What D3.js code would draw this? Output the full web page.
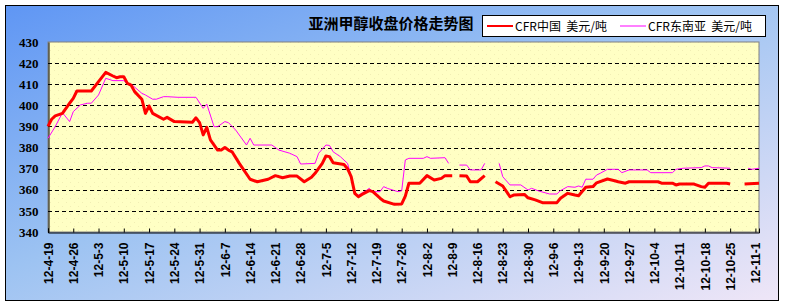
<!DOCTYPE html>
<html>
<head>
<meta charset="utf-8">
<script src="https://cdn.jsdelivr.net/npm/d3@7"></script>
<style>
  body { margin: 0; background: #fff; }
  svg { display: block; }
  text { white-space: pre; }
</style>
</head>
<body>
<svg id="chart" width="785" height="306"></svg>
<script>
// chart title and legend names
var title = "亚洲甲醇收盘价格走势图";
var seriesNames = ["CFR中国  美元/吨", "CFR东南亚  美元/吨"];

// x tick labels (weekly)
var xTickLabels = ["12-4-19","12-4-26","12-5-3","12-5-10","12-5-17","12-5-24","12-5-31",
  "12-6-7","12-6-14","12-6-21","12-6-28","12-7-5","12-7-12","12-7-19","12-7-26",
  "12-8-2","12-8-9","12-8-16","12-8-23","12-8-30","12-9-6","12-9-13","12-9-20",
  "12-9-27","12-10-4","12-10-11","12-10-18","12-10-25","12-11-1"];
var yTicks = [340,350,360,370,380,390,400,410,420,430];

// CFR China (red) - null = no quote
var chinaDates = ["4-19","4-20","4-21","4-23","4-25","4-26","4-27","5-1","5-3","5-5","5-7","5-8","5-9","5-10",
  "5-11","5-12","5-13","5-15","5-16","5-17","5-18","5-21","5-22","5-24","5-29","5-30","5-31",
  "6-1","6-2","6-3","6-5","6-6","6-7","6-8","6-9","6-11","6-14","6-16","6-19","6-21","6-23","6-25","6-27","6-29",
  "7-1","7-2","7-4","7-5","7-6","7-7","7-10","7-11","7-12","7-13","7-14","7-15","7-17","7-18","7-20","7-21","7-24","7-26","7-27","7-28","7-31",
  "8-2","8-4","8-6","8-7","8-9","8-10","8-11","8-13","8-14","8-16","8-18","8-20","8-21","8-23","8-25","8-26","8-29","8-30",
  "9-1","9-3","9-7","9-8","9-10","9-12","9-13","9-15","9-17","9-18","9-21","9-23","9-24","9-26","9-27",
  "10-5","10-6","10-9","10-10","10-11","10-15","10-17","10-18","10-19","10-24","10-25","10-27","10-29","11-2"];
var chinaValues = [390,393.4,395,396.2,401,403.3,406.8,406.8,411.2,415.6,413.9,413.1,413.5,413.5,
  410.4,409.6,406.5,402.9,396.2,399.7,396.2,393.4,394.3,392.3,392,394.1,391.8,
  386,389.6,383.6,378.8,378.8,380,378.8,378,372.5,365,363.8,365,366.7,365.7,366.5,366.5,363.8,
  365.9,367.8,372.5,376,375.7,372.8,372,370,366.2,358.3,356.7,357.8,359.6,359.1,356,354.7,353.1,353.3,357,363.1,363.1,
  366.7,364.6,365.4,366.7,366.7,null,366.7,366.5,363.8,363.8,366.7,null,363.8,361.8,356.7,357.5,357.8,356.2,
  355.2,353.9,353.9,356,358.3,357.5,357.2,361.2,361.5,363.3,365.1,364.3,363.8,363.1,363.8,
  363.8,363.1,363.1,362.3,362.7,362.7,361.5,361.2,363.1,363.1,362.7,null,362.7,363.1];

// CFR South-East Asia (magenta)
var seaDates = ["4-19","4-21","4-23","4-25","4-26","4-28","4-30","5-1","5-3","5-5","5-7","5-10","5-11","5-12",
  "5-15","5-16","5-18","5-19","5-21","5-22","5-25","5-30",
  "6-1","6-2","6-4","6-5","6-7","6-8","6-10","6-13","6-14","6-15","6-20","6-22","6-25","6-27","6-28",
  "7-2","7-3","7-5","7-6","7-7","7-9","7-11","7-12","7-13","7-14","7-16","7-17","7-18","7-20","7-21","7-22","7-24","7-25","7-26","7-27","7-28",
  "8-1","8-2","8-3","8-7","8-8","8-9","8-11","8-13","8-14","8-17","8-18","8-20","8-22","8-23","8-25","8-28","8-30","8-31",
  "9-2","9-5","9-7","9-8","9-10","9-12","9-13","9-14","9-15","9-17","9-18","9-19","9-21","9-24","9-25","9-27",
  "10-2","10-3","10-9","10-10","10-12","10-17","10-18","10-19","10-20","10-25","10-27","10-30","10-31","11-2"];
var seaValues = [384.4,389.9,396.5,392.3,397,400.2,401,401,404.9,412.8,411.7,411.7,410.1,410.1,
  405.7,404.9,402.9,402.9,404.1,404.1,403.8,403.8,
  398.6,400.6,389.9,389.9,392.3,391.8,388.3,381.2,384.4,381.2,381.2,378.8,377.3,375.7,372.2,
  372.5,377.3,381.2,381,378,375.7,372.5,366.2,358.3,357.5,359.4,360.7,359.1,359.1,361.5,360.7,359.6,359.1,359.5,374.1,374.9,
  374.9,375.7,374.9,375.2,372.5,null,371.7,371.7,369.4,369.4,372.5,null,372.5,366.2,362.3,362.3,359.9,360.7,
  359.4,358,358,359.6,361.5,361.2,361.8,361.2,365,365,367,367.8,369.7,369.7,368.1,369.4,
  369.4,368.1,368.1,369.7,370.2,370.5,371.3,371.3,370.5,370.2,null,370.2,369.7,370.2];

var seriesColors = ["#ff0000", "#ff00ff"];

var parseDay = d3.timeParse("%Y-%m-%d");
function toDate(s) { return parseDay("2012-" + s); }

var svg = d3.select("#chart");
var plot = {left: 48, right: 759, top: 42, bottom: 232};

// backgrounds
var defs = svg.append("defs");
var grad = defs.append("linearGradient").attr("id", "bg")
    .attr("x1", 0).attr("y1", 0).attr("x2", 1).attr("y2", 1);
grad.append("stop").attr("offset", "0%").attr("stop-color", "#5f96f4");
grad.append("stop").attr("offset", "45%").attr("stop-color", "#9dc3f2");
grad.append("stop").attr("offset", "100%").attr("stop-color", "#efe6f7");

var pat = defs.append("pattern").attr("id", "dots").attr("patternUnits", "userSpaceOnUse")
    .attr("width", 8).attr("height", 8);
pat.append("rect").attr("width", 8).attr("height", 8).attr("fill", "#ffffc4");
pat.append("rect").attr("x", 2).attr("y", 2).attr("width", 1).attr("height", 1).attr("fill", "#f1eeb4");
pat.append("rect").attr("x", 6).attr("y", 6).attr("width", 1).attr("height", 1).attr("fill", "#f1eeb4");

svg.append("rect").attr("x", 5.5).attr("y", 5.5).attr("width", 773).attr("height", 295)
    .attr("fill", "url(#bg)").attr("stroke", "#000").attr("stroke-width", 1);

svg.append("rect").attr("x", plot.left).attr("y", plot.top)
    .attr("width", plot.right - plot.left).attr("height", plot.bottom - plot.top)
    .attr("fill", "url(#dots)").attr("stroke", "#808080").attr("stroke-width", 1);

// scales
var x = d3.scaleTime()
    .domain([toDate("4-19"), toDate("11-2")])
    .range([plot.left, plot.right]);
var y = d3.scaleLinear().domain([340, 430]).range([plot.bottom, plot.top]);

// gridlines
svg.append("g").selectAll("line")
    .data(yTicks.filter(function(v) { return v > 340 && v < 430; }))
  .enter().append("line")
    .attr("x1", plot.left).attr("x2", plot.right)
    .attr("y1", function(d) { return Math.round(y(d)) + 0.5; })
    .attr("y2", function(d) { return Math.round(y(d)) + 0.5; })
    .attr("stroke", "#000").attr("stroke-dasharray", "4,3");

// axes
var yAxis = svg.append("g").attr("transform", "translate(" + (plot.left + 0.5) + ",0)")
    .call(d3.axisLeft(y).tickValues(yTicks).tickSize(0).tickPadding(10));
yAxis.select(".domain").attr("stroke", "#000");
yAxis.selectAll("text").attr("font-family", "Liberation Serif, serif")
    .attr("font-weight", "bold").attr("font-size", 13).attr("fill", "#000");

var xAxis = svg.append("g").attr("transform", "translate(0," + (plot.bottom + 0.5) + ")")
    .call(d3.axisBottom(x)
      .tickValues(xTickLabels.map(function(s) { return parseDay("20" + s); }))
      .tickSize(-4)
      .tickFormat(function(d, i) { return xTickLabels[i]; }));
xAxis.select(".domain").attr("stroke", "#000");
xAxis.selectAll(".tick line").attr("stroke", "#000");
xAxis.selectAll("text")
    .attr("font-family", "Liberation Sans, Arial, sans-serif")
    .attr("font-weight", "bold").attr("font-size", 12).attr("fill", "#000")
    .attr("text-anchor", "end")
    .attr("transform", "rotate(-90)")
    .attr("x", -10).attr("y", 0).attr("dy", "0.35em");

// lines
var line = d3.line()
    .defined(function(d) { return d.v !== null; })
    .x(function(d) { return x(d.date); })
    .y(function(d) { return y(d.v); });

var series = [
  {name: seriesNames[0], color: seriesColors[0], width: 3,
   pts: chinaDates.map(function(s, i) { return {date: toDate(s), v: chinaValues[i]}; })},
  {name: seriesNames[1], color: seriesColors[1], width: 1,
   pts: seaDates.map(function(s, i) { return {date: toDate(s), v: seaValues[i]}; })}
];

svg.append("g").selectAll("path")
    .data(series.slice().reverse())
  .enter().append("path")
    .attr("d", function(d) { return line(d.pts); })
    .attr("fill", "none")
    .attr("stroke", function(d) { return d.color; })
    .attr("stroke-width", function(d) { return d.width; })
    .attr("stroke-linejoin", "round");

// title
svg.append("text").attr("x", 391).attr("y", 29)
    .attr("text-anchor", "middle")
    .attr("font-family", "Noto Sans CJK SC, sans-serif")
    .attr("font-weight", "bold").attr("font-size", 15).attr("fill", "#000")
    .text(title);

// legend
var lg = svg.append("g");
lg.append("rect").attr("x", 482.5).attr("y", 15.5).attr("width", 283).attr("height", 21)
    .attr("fill", "#fff").attr("stroke", "#000");
var legX = [487, 620];
series.forEach(function(s, i) {
  lg.append("line").attr("x1", legX[i]).attr("x2", legX[i] + 26)
      .attr("y1", 26).attr("y2", 26)
      .attr("stroke", s.color).attr("stroke-width", s.width === 3 ? 2 : 1);
  lg.append("text").attr("x", legX[i] + 28).attr("y", 30.5)
      .attr("font-family", "Noto Sans CJK SC, sans-serif")
      .attr("font-size", 12).attr("fill", "#000")
      .text(s.name);
});
</script>
</body>
</html>
